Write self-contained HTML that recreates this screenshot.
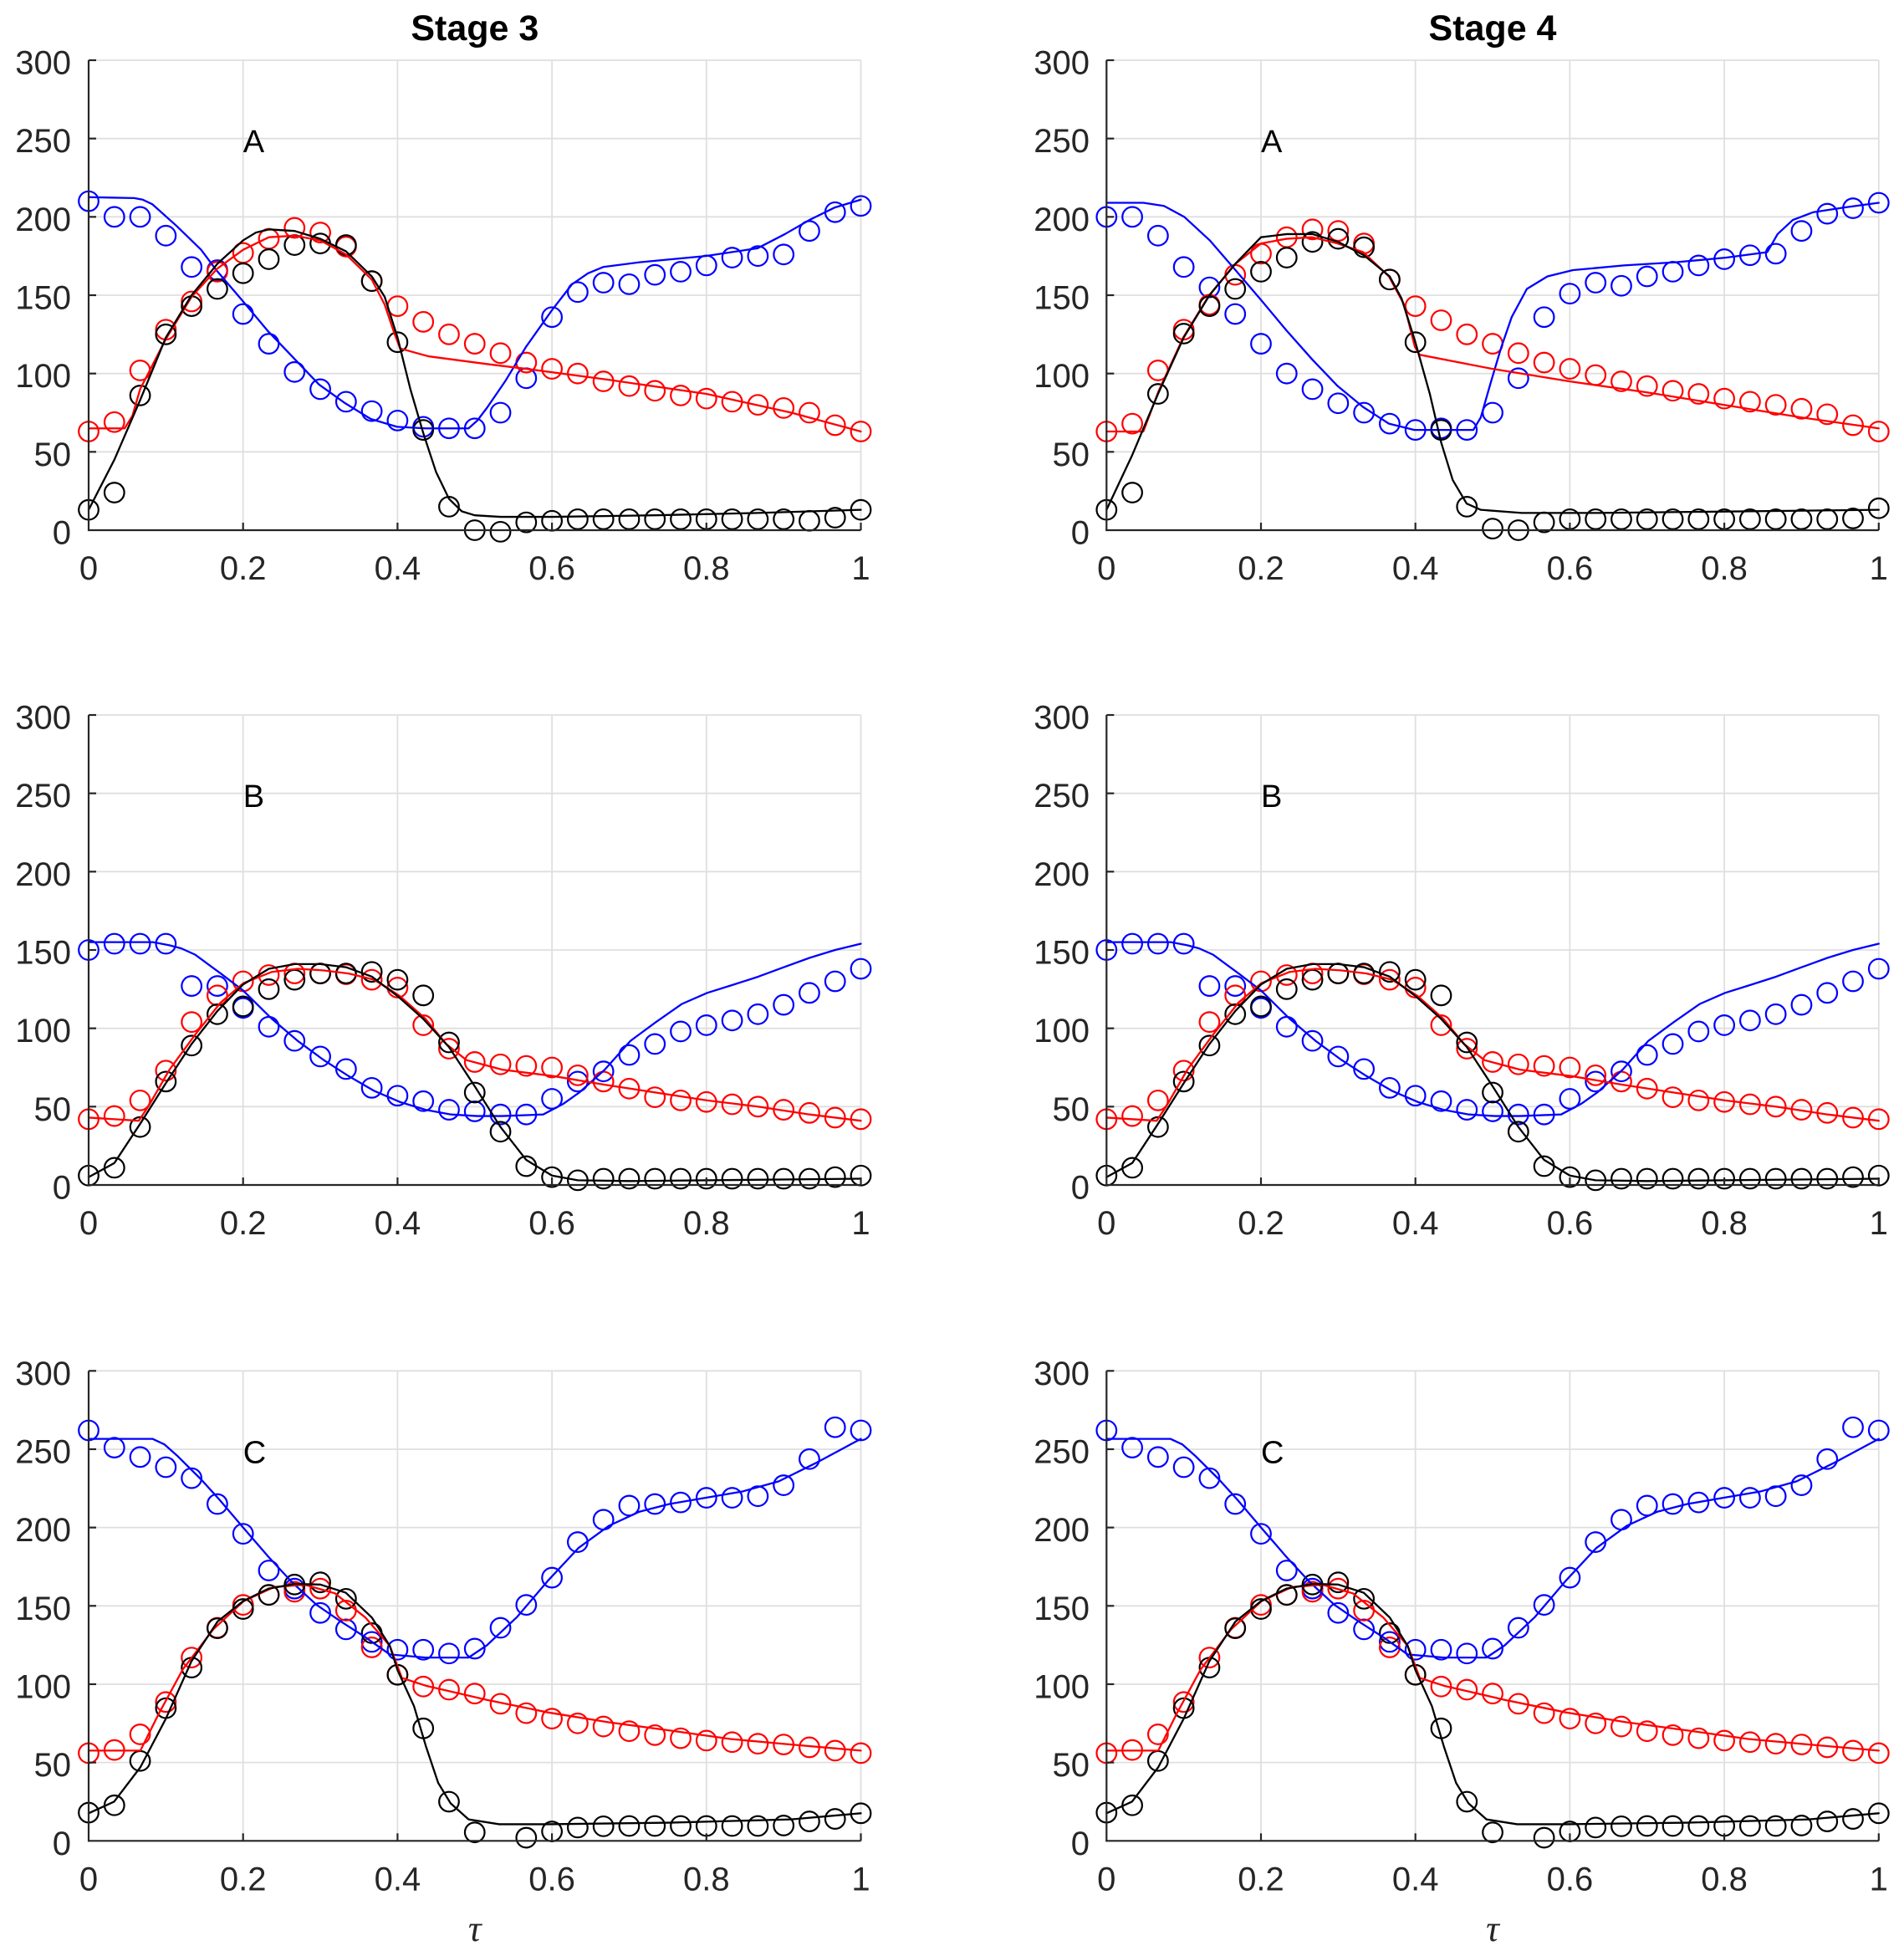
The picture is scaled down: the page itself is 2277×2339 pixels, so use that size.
<!DOCTYPE html>
<html>
<head>
<meta charset="utf-8">
<style>
html,body{margin:0;padding:0;background:#fff;}
svg{display:block;}
.tk{font-family:"Liberation Sans",Arial,sans-serif;font-size:40px;fill:#262626;}
.tt{font-family:"Liberation Sans",Arial,sans-serif;font-size:43px;font-weight:bold;fill:#000;}
.lt{font-family:"Liberation Sans",Arial,sans-serif;font-size:38px;fill:#000;}
.tau{font-family:"Liberation Serif","DejaVu Serif",serif;font-style:italic;font-size:44px;fill:#262626;}
.ln{fill:none;stroke-width:2.3;stroke-linejoin:round;stroke-linecap:round;}
</style>
</head>
<body>
<svg width="2277" height="2339" viewBox="0 0 2277 2339" xmlns="http://www.w3.org/2000/svg">
<rect x="0" y="0" width="2277" height="2339" fill="#fff"/>
<defs>
  <circle id="o" r="11.8" fill="none" stroke-width="2.2" transform="scale(0.032486,-0.533808)"/>
  <g id="grid" stroke="#dfdfdf" stroke-width="1.8" fill="none">
    <line x1="0" y1="0" x2="923.5" y2="0"/>
    <line x1="0" y1="93.67" x2="923.5" y2="93.67"/>
    <line x1="0" y1="187.33" x2="923.5" y2="187.33"/>
    <line x1="0" y1="281" x2="923.5" y2="281"/>
    <line x1="0" y1="374.67" x2="923.5" y2="374.67"/>
    <line x1="0" y1="468.33" x2="923.5" y2="468.33"/>
    <line x1="184.7" y1="0" x2="184.7" y2="562"/>
    <line x1="369.4" y1="0" x2="369.4" y2="562"/>
    <line x1="554.1" y1="0" x2="554.1" y2="562"/>
    <line x1="738.8" y1="0" x2="738.8" y2="562"/>
    <line x1="923.5" y1="0" x2="923.5" y2="562"/>
  </g>
  <g id="axes" stroke="#262626" stroke-width="2.2" fill="none">
    <line x1="0" y1="0" x2="0" y2="563"/>
    <line x1="-1" y1="562" x2="923.5" y2="562"/>
    <line x1="0" y1="0" x2="9" y2="0"/>
    <line x1="0" y1="93.67" x2="9" y2="93.67"/>
    <line x1="0" y1="187.33" x2="9" y2="187.33"/>
    <line x1="0" y1="281" x2="9" y2="281"/>
    <line x1="0" y1="374.67" x2="9" y2="374.67"/>
    <line x1="0" y1="468.33" x2="9" y2="468.33"/>
    <line x1="184.7" y1="562" x2="184.7" y2="553"/>
    <line x1="369.4" y1="562" x2="369.4" y2="553"/>
    <line x1="554.1" y1="562" x2="554.1" y2="553"/>
    <line x1="738.8" y1="562" x2="738.8" y2="553"/>
    <line x1="923.5" y1="562" x2="923.5" y2="553"/>
  </g>

  <!-- Panel B data -->
  <g id="dB">
    <g stroke="#0000ff">
      <use href="#o" x="0" y="150"/><use href="#o" x="1" y="154"/><use href="#o" x="2" y="154"/><use href="#o" x="3" y="154"/><use href="#o" x="4" y="127"/><use href="#o" x="5" y="127"/><use href="#o" x="6" y="113"/><use href="#o" x="7" y="101"/><use href="#o" x="8" y="92"/><use href="#o" x="9" y="82"/><use href="#o" x="10" y="74"/><use href="#o" x="11" y="62"/><use href="#o" x="12" y="57"/><use href="#o" x="13" y="53.5"/><use href="#o" x="14" y="48"/><use href="#o" x="15" y="47"/><use href="#o" x="16" y="45"/><use href="#o" x="17" y="45"/><use href="#o" x="18" y="55"/><use href="#o" x="19" y="66"/><use href="#o" x="20" y="72.5"/><use href="#o" x="21" y="83"/><use href="#o" x="22" y="90"/><use href="#o" x="23" y="98"/><use href="#o" x="24" y="102"/><use href="#o" x="25" y="105"/><use href="#o" x="26" y="109"/><use href="#o" x="27" y="115"/><use href="#o" x="28" y="122.6"/><use href="#o" x="29" y="130"/><use href="#o" x="30" y="138"/>
    </g>
    <g stroke="#ff0000">
      <use href="#o" x="0" y="42"/><use href="#o" x="1" y="44"/><use href="#o" x="2" y="54"/><use href="#o" x="3" y="73"/><use href="#o" x="4" y="104"/><use href="#o" x="5" y="121"/><use href="#o" x="6" y="130"/><use href="#o" x="7" y="134"/><use href="#o" x="8" y="135"/><use href="#o" x="9" y="135"/><use href="#o" x="10" y="134.5"/><use href="#o" x="11" y="131"/><use href="#o" x="12" y="126"/><use href="#o" x="13" y="102"/><use href="#o" x="14" y="87"/><use href="#o" x="15" y="78.5"/><use href="#o" x="16" y="77"/><use href="#o" x="17" y="76"/><use href="#o" x="18" y="75"/><use href="#o" x="19" y="70"/><use href="#o" x="20" y="66"/><use href="#o" x="21" y="61.5"/><use href="#o" x="22" y="56"/><use href="#o" x="23" y="54"/><use href="#o" x="24" y="53"/><use href="#o" x="25" y="51.5"/><use href="#o" x="26" y="50"/><use href="#o" x="27" y="48"/><use href="#o" x="28" y="46"/><use href="#o" x="29" y="43"/><use href="#o" x="30" y="42"/>
    </g>
    <g stroke="#000000">
      <use href="#o" x="0" y="6"/><use href="#o" x="1" y="11"/><use href="#o" x="2" y="37"/><use href="#o" x="3" y="66"/><use href="#o" x="4" y="89"/><use href="#o" x="5" y="109"/><use href="#o" x="6" y="114"/><use href="#o" x="7" y="125"/><use href="#o" x="8" y="131"/><use href="#o" x="9" y="135"/><use href="#o" x="10" y="135"/><use href="#o" x="11" y="136"/><use href="#o" x="12" y="131"/><use href="#o" x="13" y="121"/><use href="#o" x="14" y="91"/><use href="#o" x="15" y="59"/><use href="#o" x="16" y="34"/><use href="#o" x="17" y="12"/><use href="#o" x="18" y="5"/><use href="#o" x="19" y="3"/><use href="#o" x="20" y="4"/><use href="#o" x="21" y="4"/><use href="#o" x="22" y="4"/><use href="#o" x="23" y="4"/><use href="#o" x="24" y="4"/><use href="#o" x="25" y="4"/><use href="#o" x="26" y="4"/><use href="#o" x="27" y="4"/><use href="#o" x="28" y="4"/><use href="#o" x="29" y="5"/><use href="#o" x="30" y="6"/>
    </g>
    <polyline class="ln" stroke="#0000ff" vector-effect="non-scaling-stroke" points="0,155 2.5,155 3.14,153 3.6,151 4.14,147 5.13,135 6.01,124 7.12,106 8.12,92 9.11,80 10.1,69.5 11.1,60 12.09,53 13.09,48 14.08,45 15.08,44 16.07,44 17.66,45 18.46,52 19.06,59 20.05,73.6 21.05,92 22.04,104 23.04,115.5 24.03,122.6 25.02,127.7 26.02,133 27.01,139 28.01,145 29,150 30,154"/>
    <polyline class="ln" stroke="#ff0000" vector-effect="non-scaling-stroke" points="0,43 1.95,41 2.35,51 3.14,73.6 4.14,96 5.13,116.5 6.01,128.8 7.12,136 8.12,138 9.11,137 10.1,135 11.1,131 12.09,120.6 13.09,106 13.89,90 14.68,79.7 16.07,73.6 18.06,69.5 20.05,64 22.04,59 24.03,54 26.02,50 28.01,45 30,41"/>
    <polyline class="ln" stroke="#000000" vector-effect="non-scaling-stroke" points="0,5 1,14 2,39 3,65 4,90 5,111 6,128 7,138 8,141 9,141 10,139 11,133 12,120.6 13,106 14,88 15,63 16,37 17,16 18,6 19,3 21,2.5 30,4"/>
  </g>

  <!-- Panel C data -->
  <g id="dC">
    <g stroke="#0000ff">
      <use href="#o" x="0" y="262"/><use href="#o" x="1" y="251"/><use href="#o" x="2" y="245"/><use href="#o" x="3" y="238.5"/><use href="#o" x="4" y="231.5"/><use href="#o" x="5" y="215"/><use href="#o" x="6" y="196"/><use href="#o" x="7" y="172.6"/><use href="#o" x="8" y="161"/><use href="#o" x="9" y="145.5"/><use href="#o" x="10" y="135"/><use href="#o" x="11" y="127"/><use href="#o" x="12" y="122"/><use href="#o" x="13" y="122"/><use href="#o" x="14" y="119.6"/><use href="#o" x="15" y="122.7"/><use href="#o" x="16" y="136"/><use href="#o" x="17" y="150.6"/><use href="#o" x="18" y="168"/><use href="#o" x="19" y="190.7"/><use href="#o" x="20" y="205"/><use href="#o" x="21" y="214"/><use href="#o" x="22" y="215"/><use href="#o" x="23" y="216"/><use href="#o" x="24" y="219"/><use href="#o" x="25" y="219"/><use href="#o" x="26" y="220"/><use href="#o" x="27" y="227"/><use href="#o" x="28" y="243.7"/><use href="#o" x="29" y="264"/><use href="#o" x="30" y="262"/>
    </g>
    <g stroke="#ff0000">
      <use href="#o" x="0" y="56"/><use href="#o" x="1" y="58"/><use href="#o" x="2" y="68"/><use href="#o" x="3" y="88.6"/><use href="#o" x="4" y="117"/><use href="#o" x="5" y="136"/><use href="#o" x="6" y="150.6"/><use href="#o" x="7" y="157"/><use href="#o" x="8" y="159"/><use href="#o" x="9" y="161"/><use href="#o" x="10" y="147"/><use href="#o" x="11" y="123.5"/><use href="#o" x="12" y="106"/><use href="#o" x="13" y="98.5"/><use href="#o" x="14" y="96.5"/><use href="#o" x="15" y="94"/><use href="#o" x="16" y="87.5"/><use href="#o" x="17" y="81.5"/><use href="#o" x="18" y="78"/><use href="#o" x="19" y="75"/><use href="#o" x="20" y="73"/><use href="#o" x="21" y="70"/><use href="#o" x="22" y="67.5"/><use href="#o" x="23" y="65.5"/><use href="#o" x="24" y="64"/><use href="#o" x="25" y="63"/><use href="#o" x="26" y="62"/><use href="#o" x="27" y="61.5"/><use href="#o" x="28" y="59.7"/><use href="#o" x="29" y="57.6"/><use href="#o" x="30" y="56"/>
    </g>
    <g stroke="#000000">
      <use href="#o" x="0" y="18"/><use href="#o" x="1" y="22.7"/><use href="#o" x="2" y="51"/><use href="#o" x="3" y="84.7"/><use href="#o" x="4" y="110.6"/><use href="#o" x="5" y="135.7"/><use href="#o" x="6" y="148"/><use href="#o" x="7" y="157"/><use href="#o" x="8" y="163.6"/><use href="#o" x="9" y="165"/><use href="#o" x="10" y="154.5"/><use href="#o" x="11" y="132.6"/><use href="#o" x="12" y="106"/><use href="#o" x="13" y="71.8"/><use href="#o" x="14" y="25"/><use href="#o" x="15" y="5.4"/><use href="#o" x="17" y="2"/><use href="#o" x="18" y="6"/><use href="#o" x="19" y="8.5"/><use href="#o" x="20" y="9.3"/><use href="#o" x="21" y="9.5"/><use href="#o" x="22" y="9.5"/><use href="#o" x="23" y="9.5"/><use href="#o" x="24" y="9.5"/><use href="#o" x="25" y="9.5"/><use href="#o" x="26" y="9.5"/><use href="#o" x="27" y="9.8"/><use href="#o" x="28" y="12.4"/><use href="#o" x="29" y="14"/><use href="#o" x="30" y="17.6"/>
    </g>
    <polyline class="ln" stroke="#0000ff" vector-effect="non-scaling-stroke" points="0,256.6 2.48,256.6 2.95,253 3.43,246 4.37,230.7 5.08,217.8 6.02,199.7 6.97,181.6 7.91,164.9 8.86,150.6 9.8,140 10.75,130 11.7,119 13.1,117 14.76,117 15.47,124.8 16.65,143 17.84,166 19.02,186.8 20.2,201 21.38,210 22.56,215 23.98,219 25.4,223 26.81,229.5 28.23,241 30,256.6"/>
    <polyline class="ln" stroke="#ff0000" vector-effect="non-scaling-stroke" points="0,57.6 2.01,57.6 2.72,81 3.66,109.5 4.84,135 6.02,153 7.2,162 8.39,163.5 9.57,158 10.75,142.6 11.7,124.5 12.17,104 13.11,99 15.47,90 17.84,82 20.2,75.7 22.56,70.5 24.93,65 27.29,61.5 30,57.6"/>
    <polyline class="ln" stroke="#000000" vector-effect="non-scaling-stroke" points="0,17.6 0.99,25 2.01,47 3,78 3.99,114.5 5.01,140 6,153 6.99,161 8.01,164 9,163.6 9.99,158.4 11,142.6 11.7,124.5 12,109 12.64,86 13.11,60 13.58,37 14.06,24 14.76,13.7 15.95,10.6 17.84,10.6 22.56,11.6 27.29,13.7 30,17.6"/>
  </g>
</defs>

<!-- frames: grid -->
<use href="#grid" transform="translate(106,72)"/>
<use href="#grid" transform="translate(1323.3,72)"/>
<use href="#grid" transform="translate(106,855)"/>
<use href="#grid" transform="translate(1323.3,855)"/>
<use href="#grid" transform="translate(106,1639.3)"/>
<use href="#grid" transform="translate(1323.3,1639.3)"/>

<!-- Panel A, Stage 3 -->
<g transform="translate(106,634) scale(30.7833,-1.87333)">
  <g stroke="#0000ff">
    <use href="#o" x="0" y="210"/><use href="#o" x="1" y="200"/><use href="#o" x="2" y="200"/><use href="#o" x="3" y="188"/><use href="#o" x="4" y="168"/><use href="#o" x="5" y="166"/><use href="#o" x="6" y="138"/><use href="#o" x="7" y="119"/><use href="#o" x="8" y="101"/><use href="#o" x="9" y="90"/><use href="#o" x="10" y="82"/><use href="#o" x="11" y="76"/><use href="#o" x="12" y="70"/><use href="#o" x="13" y="66"/><use href="#o" x="14" y="65"/><use href="#o" x="15" y="65"/><use href="#o" x="16" y="75"/><use href="#o" x="17" y="97"/><use href="#o" x="18" y="136"/><use href="#o" x="19" y="152"/><use href="#o" x="20" y="158"/><use href="#o" x="21" y="157"/><use href="#o" x="22" y="163"/><use href="#o" x="23" y="165"/><use href="#o" x="24" y="169"/><use href="#o" x="25" y="174"/><use href="#o" x="26" y="175"/><use href="#o" x="27" y="176"/><use href="#o" x="28" y="191"/><use href="#o" x="29" y="203"/><use href="#o" x="30" y="207"/>
  </g>
  <g stroke="#ff0000">
    <use href="#o" x="0" y="63"/><use href="#o" x="1" y="69"/><use href="#o" x="2" y="102"/><use href="#o" x="3" y="128"/><use href="#o" x="4" y="146"/><use href="#o" x="5" y="165"/><use href="#o" x="6" y="177"/><use href="#o" x="7" y="186"/><use href="#o" x="8" y="193"/><use href="#o" x="9" y="190"/><use href="#o" x="10" y="181"/><use href="#o" x="11" y="159"/><use href="#o" x="12" y="143"/><use href="#o" x="13" y="133"/><use href="#o" x="14" y="125"/><use href="#o" x="15" y="119"/><use href="#o" x="16" y="113"/><use href="#o" x="17" y="107"/><use href="#o" x="18" y="103"/><use href="#o" x="19" y="100"/><use href="#o" x="20" y="95"/><use href="#o" x="21" y="92"/><use href="#o" x="22" y="89"/><use href="#o" x="23" y="86"/><use href="#o" x="24" y="84"/><use href="#o" x="25" y="82"/><use href="#o" x="26" y="80"/><use href="#o" x="27" y="78"/><use href="#o" x="28" y="75"/><use href="#o" x="29" y="67"/><use href="#o" x="30" y="63"/>
  </g>
  <g stroke="#000000">
    <use href="#o" x="0" y="13"/><use href="#o" x="1" y="24"/><use href="#o" x="2" y="86"/><use href="#o" x="3" y="125"/><use href="#o" x="4" y="143"/><use href="#o" x="5" y="154"/><use href="#o" x="6" y="164"/><use href="#o" x="7" y="173"/><use href="#o" x="8" y="182"/><use href="#o" x="9" y="183"/><use href="#o" x="10" y="182"/><use href="#o" x="11" y="159"/><use href="#o" x="12" y="120"/><use href="#o" x="13" y="64"/><use href="#o" x="14" y="15"/><use href="#o" x="15" y="0"/><use href="#o" x="16" y="-1"/><use href="#o" x="17" y="5"/><use href="#o" x="18" y="6"/><use href="#o" x="19" y="7"/><use href="#o" x="20" y="7"/><use href="#o" x="21" y="7"/><use href="#o" x="22" y="7"/><use href="#o" x="23" y="7"/><use href="#o" x="24" y="7"/><use href="#o" x="25" y="7"/><use href="#o" x="26" y="7"/><use href="#o" x="27" y="7"/><use href="#o" x="28" y="6"/><use href="#o" x="29" y="8"/><use href="#o" x="30" y="13"/>
  </g>
  <polyline class="ln" stroke="#0000ff" vector-effect="non-scaling-stroke" points="0,212.6 1.77,212 2.1,211 2.48,208 3.43,194 4.37,179 4.96,166 5.95,147 6.97,127 7.96,110 8.95,93 9.97,81 10.96,71 11.98,66 13.1,65 14.76,65 15.1,70 15.47,78 16.18,95 16.99,117 17.98,140 18.78,157 19.4,164 19.99,168 21.4,171 23.98,175 25.99,180 27.05,189 28,198 28.99,206 30,211"/>
  <polyline class="ln" stroke="#ff0000" vector-effect="non-scaling-stroke" points="0,65 1.4,65 1.7,73 2,90 3,122 4,149 5,167 6,179 7,187 8,188 9,185 10,176 11,160 11.5,144 11.85,127 12.1,116 13.2,111 15.5,106 17,103 20.2,96 24,87 27.3,75 30,63"/>
  <polyline class="ln" stroke="#000000" vector-effect="non-scaling-stroke" points="0,13 1,45 2,83 3,123 4,150 5,170 6,185 6.5,190 7,192 8,191 9,186 10,178 11,162 11.5,149 12,123 12.5,90 13,62 13.5,37 14,20 14.5,12 15,9.5 16,8.5 18,8.5 22,9.5 26,11 30,13"/>
</g>

<!-- Panel A, Stage 4 -->
<g transform="translate(1323.3,634) scale(30.7833,-1.87333)">
  <g stroke="#0000ff">
    <use href="#o" x="0" y="200"/><use href="#o" x="1" y="200"/><use href="#o" x="2" y="188"/><use href="#o" x="3" y="168"/><use href="#o" x="4" y="155"/><use href="#o" x="5" y="138"/><use href="#o" x="6" y="119"/><use href="#o" x="7" y="100"/><use href="#o" x="8" y="90"/><use href="#o" x="9" y="81"/><use href="#o" x="10" y="75"/><use href="#o" x="11" y="68"/><use href="#o" x="12" y="64"/><use href="#o" x="13" y="65"/><use href="#o" x="14" y="64"/><use href="#o" x="15" y="75"/><use href="#o" x="16" y="97"/><use href="#o" x="17" y="136"/><use href="#o" x="18" y="151"/><use href="#o" x="19" y="158"/><use href="#o" x="20" y="156"/><use href="#o" x="21" y="162"/><use href="#o" x="22" y="165"/><use href="#o" x="23" y="169"/><use href="#o" x="24" y="173"/><use href="#o" x="25" y="175.5"/><use href="#o" x="26" y="176.5"/><use href="#o" x="27" y="191"/><use href="#o" x="28" y="202"/><use href="#o" x="29" y="205.5"/><use href="#o" x="30" y="209"/>
  </g>
  <g stroke="#ff0000">
    <use href="#o" x="0" y="63"/><use href="#o" x="1" y="68"/><use href="#o" x="2" y="102"/><use href="#o" x="3" y="128"/><use href="#o" x="4" y="144"/><use href="#o" x="5" y="163"/><use href="#o" x="6" y="176.5"/><use href="#o" x="7" y="187"/><use href="#o" x="8" y="192"/><use href="#o" x="9" y="191"/><use href="#o" x="10" y="183"/><use href="#o" x="11" y="160"/><use href="#o" x="12" y="143"/><use href="#o" x="13" y="134"/><use href="#o" x="14" y="125"/><use href="#o" x="15" y="119"/><use href="#o" x="16" y="113"/><use href="#o" x="17" y="107"/><use href="#o" x="18" y="103"/><use href="#o" x="19" y="99"/><use href="#o" x="20" y="95"/><use href="#o" x="21" y="92"/><use href="#o" x="22" y="89"/><use href="#o" x="23" y="87"/><use href="#o" x="24" y="84"/><use href="#o" x="25" y="82"/><use href="#o" x="26" y="80"/><use href="#o" x="27" y="77.5"/><use href="#o" x="28" y="74"/><use href="#o" x="29" y="67"/><use href="#o" x="30" y="63"/>
  </g>
  <g stroke="#000000">
    <use href="#o" x="0" y="13"/><use href="#o" x="1" y="24"/><use href="#o" x="2" y="87"/><use href="#o" x="3" y="125.5"/><use href="#o" x="4" y="143"/><use href="#o" x="5" y="154"/><use href="#o" x="6" y="165"/><use href="#o" x="7" y="174"/><use href="#o" x="8" y="184"/><use href="#o" x="9" y="186"/><use href="#o" x="10" y="180.6"/><use href="#o" x="11" y="160"/><use href="#o" x="12" y="120"/><use href="#o" x="13" y="64"/><use href="#o" x="14" y="15"/><use href="#o" x="15" y="1"/><use href="#o" x="16" y="0"/><use href="#o" x="17" y="5"/><use href="#o" x="18" y="7"/><use href="#o" x="19" y="7"/><use href="#o" x="20" y="7"/><use href="#o" x="21" y="7"/><use href="#o" x="22" y="7"/><use href="#o" x="23" y="7"/><use href="#o" x="24" y="7"/><use href="#o" x="25" y="7"/><use href="#o" x="26" y="7"/><use href="#o" x="27" y="7"/><use href="#o" x="28" y="7"/><use href="#o" x="29" y="7.5"/><use href="#o" x="30" y="14"/>
  </g>
  <polyline class="ln" stroke="#0000ff" vector-effect="non-scaling-stroke" points="0,209 1.43,209 2.23,207 3.02,200 4.01,185 5.01,166 6,147 6.99,127.5 7.99,109 8.98,92 9.97,78.6 10.97,68 11.96,64 13.15,64 14.25,64 14.54,72 14.94,95 15.34,117 15.74,136 16.33,154 17.13,162 18.12,166 20.1,169 22.1,171 24.08,174 25.67,177.5 26.07,189 26.66,198 27.46,203 28.66,206 30,209"/>
  <polyline class="ln" stroke="#ff0000" vector-effect="non-scaling-stroke" points="0,63 1.43,63 2.03,89 2.98,123 3.99,150 5.01,170 6,183 6.99,186 7.99,187 8.98,183 9.97,177.5 10.97,162 11.56,144 11.98,117 12.16,112 14.98,103 17.98,95 20.98,88 23.98,80 26.98,72 30,65"/>
  <polyline class="ln" stroke="#000000" vector-effect="non-scaling-stroke" points="0,13 1,48 2,87 3,123 4,150 5,170 6,187 7,189 8,189 9,184 10,175.5 11,162 11.46,148 11.98,121 12.56,87 13,56 13.45,32 13.99,17 14.54,13 16.13,11 19.1,11 30,13"/>
</g>

<!-- Panels B and C -->
<use href="#dB" transform="translate(106,1417) scale(30.7833,-1.87333)"/>
<use href="#dB" transform="translate(1323.3,1417) scale(30.7833,-1.87333)"/>
<use href="#dC" transform="translate(106,2201.3) scale(30.7833,-1.87333)"/>
<use href="#dC" transform="translate(1323.3,2201.3) scale(30.7833,-1.87333)"/>

<!-- axes -->
<use href="#axes" transform="translate(106,72)"/>
<use href="#axes" transform="translate(1323.3,72)"/>
<use href="#axes" transform="translate(106,855)"/>
<use href="#axes" transform="translate(1323.3,855)"/>
<use href="#axes" transform="translate(106,1639.3)"/>
<use href="#axes" transform="translate(1323.3,1639.3)"/>

<!-- titles -->
<text class="tt" x="567.8" y="48" text-anchor="middle">Stage 3</text>
<text class="tt" x="1785" y="48" text-anchor="middle">Stage 4</text>

<!-- panel letters -->
<text class="lt" x="290.7" y="182.2">A</text>
<text class="lt" x="1508" y="182.2">A</text>
<text class="lt" x="290.7" y="965.2">B</text>
<text class="lt" x="1508" y="965.2">B</text>
<text class="lt" x="290.7" y="1749.5">C</text>
<text class="lt" x="1508" y="1749.5">C</text>

<!-- y tick labels -->
<g class="tk" text-anchor="end">
  <text x="85" y="650.5">0</text><text x="85" y="556.8">50</text><text x="85" y="463.2">100</text><text x="85" y="369.5">150</text><text x="85" y="275.8">200</text><text x="85" y="182.2">250</text><text x="85" y="88.5">300</text>
  <text x="1303" y="650.5">0</text><text x="1303" y="556.8">50</text><text x="1303" y="463.2">100</text><text x="1303" y="369.5">150</text><text x="1303" y="275.8">200</text><text x="1303" y="182.2">250</text><text x="1303" y="88.5">300</text>
  <text x="85" y="1433.5">0</text><text x="85" y="1339.8">50</text><text x="85" y="1246.2">100</text><text x="85" y="1152.5">150</text><text x="85" y="1058.8">200</text><text x="85" y="965.2">250</text><text x="85" y="871.5">300</text>
  <text x="1303" y="1433.5">0</text><text x="1303" y="1339.8">50</text><text x="1303" y="1246.2">100</text><text x="1303" y="1152.5">150</text><text x="1303" y="1058.8">200</text><text x="1303" y="965.2">250</text><text x="1303" y="871.5">300</text>
  <text x="85" y="2217.8">0</text><text x="85" y="2124.1">50</text><text x="85" y="2030.5">100</text><text x="85" y="1936.8">150</text><text x="85" y="1843.1">200</text><text x="85" y="1749.5">250</text><text x="85" y="1655.8">300</text>
  <text x="1303" y="2217.8">0</text><text x="1303" y="2124.1">50</text><text x="1303" y="2030.5">100</text><text x="1303" y="1936.8">150</text><text x="1303" y="1843.1">200</text><text x="1303" y="1749.5">250</text><text x="1303" y="1655.8">300</text>
</g>

<!-- x tick labels -->
<g class="tk" text-anchor="middle">
  <text x="106" y="693">0</text><text x="290.7" y="693">0.2</text><text x="475.4" y="693">0.4</text><text x="660.1" y="693">0.6</text><text x="844.8" y="693">0.8</text><text x="1029.5" y="693">1</text>
  <text x="1323.3" y="693">0</text><text x="1508" y="693">0.2</text><text x="1692.7" y="693">0.4</text><text x="1877.4" y="693">0.6</text><text x="2062.1" y="693">0.8</text><text x="2246.8" y="693">1</text>
  <text x="106" y="1476">0</text><text x="290.7" y="1476">0.2</text><text x="475.4" y="1476">0.4</text><text x="660.1" y="1476">0.6</text><text x="844.8" y="1476">0.8</text><text x="1029.5" y="1476">1</text>
  <text x="1323.3" y="1476">0</text><text x="1508" y="1476">0.2</text><text x="1692.7" y="1476">0.4</text><text x="1877.4" y="1476">0.6</text><text x="2062.1" y="1476">0.8</text><text x="2246.8" y="1476">1</text>
  <text x="106" y="2260.3">0</text><text x="290.7" y="2260.3">0.2</text><text x="475.4" y="2260.3">0.4</text><text x="660.1" y="2260.3">0.6</text><text x="844.8" y="2260.3">0.8</text><text x="1029.5" y="2260.3">1</text>
  <text x="1323.3" y="2260.3">0</text><text x="1508" y="2260.3">0.2</text><text x="1692.7" y="2260.3">0.4</text><text x="1877.4" y="2260.3">0.6</text><text x="2062.1" y="2260.3">0.8</text><text x="2246.8" y="2260.3">1</text>
</g>

<!-- tau labels -->
<text class="tau" x="567.8" y="2321" text-anchor="middle">τ</text>
<text class="tau" x="1785" y="2321" text-anchor="middle">τ</text>
</svg>
</body>
</html>
